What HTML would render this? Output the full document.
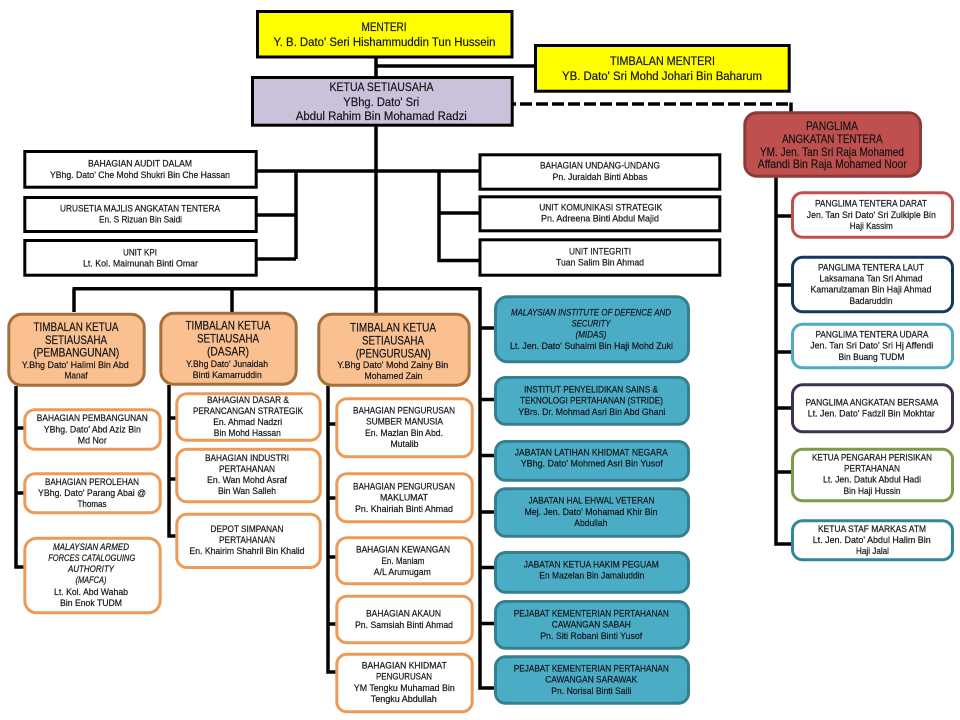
<!DOCTYPE html>
<html><head><meta charset="utf-8"><style>
html,body{margin:0;padding:0;background:#fff}
svg{display:block}
text{font-family:"Liberation Sans",sans-serif;fill:#15151a;stroke:#15151a;stroke-width:.2px;text-anchor:middle;font-size:9.4px}
.h{font-size:12.4px}
.m{font-size:11.6px}
.i{font-style:italic}
.l{stroke:#000;stroke-width:3.5;fill:none}
.bk{fill:#fff;stroke:#000;stroke-width:3}
.or{fill:#fac090;stroke:#a5703c;stroke-width:3}
.oc{fill:#fff;stroke:#ec9a55;stroke-width:3}
.bl{fill:#4bacc6;stroke:#35808f;stroke-width:3}
</style></head><body>
<svg xmlns="http://www.w3.org/2000/svg" width="960" height="720" viewBox="0 0 960 720">
<rect width="960" height="720" fill="#fff"/>
<!-- connectors -->
<path class="l" d="M376 58V290M376 66H534M257 171H480M296 171V259M257 215H296M257 259H296M439 171V260.500H480M439 213H480"/>
<path class="l" d="M72.500 288.700H481.700M74 288.700V312M232 288.700V312M376 288.700V313M480 288.700V688H495M480 328H495M480 399.500H495M480 455.500H495M480 512H495M480 567.500H495M480 623.500H495"/>
<path class="l" d="M16 386V567H24M16 428H24M16 493H24"/>
<path class="l" d="M169 385V536H176M169 418H176M169 479H176"/>
<path class="l" d="M328 386V672H336M328 424H336M328 498H336M328 557H336M328 624H336"/>
<path class="l" d="M776 177V544H792M776 216H792M776 285H792M776 352H792M776 408H792M776 472H792"/>
<path d="M513 104H516M520 104H791" stroke="#000" stroke-width="3.500" stroke-dasharray="12 4" fill="none" style="stroke-dasharray:none" opacity="0"/>
<path d="M513 104H516" stroke="#000" stroke-width="3.500" fill="none"/>
<path d="M520 104H791" stroke="#000" stroke-width="3.500" stroke-dasharray="12 4" fill="none"/>
<path class="l" d="M791 102.500V113"/>
<!-- top boxes -->
<rect x="257.500" y="11.500" width="254.500" height="45.500" fill="#ffff00" stroke="#000" stroke-width="3"/>
<rect x="535.500" y="45.500" width="253.700" height="45.700" fill="#ffff00" stroke="#000" stroke-width="3"/>
<rect x="252.500" y="77.500" width="259.700" height="47.700" fill="#ccc1da" stroke="#000" stroke-width="3"/>
<!-- left / right black boxes -->
<rect class="bk" x="24.800" y="151.500" width="231.400" height="35.700"/>
<rect class="bk" x="24.800" y="197.500" width="231.400" height="34"/>
<rect class="bk" x="24.800" y="240.500" width="231.400" height="34.700"/>
<rect class="bk" x="480" y="154.800" width="239.800" height="34.400"/>
<rect class="bk" x="480" y="196.800" width="239.800" height="34"/>
<rect class="bk" x="480" y="239.800" width="239.800" height="35.400"/>
<!-- panglima -->
<rect x="744.800" y="112.800" width="175.700" height="63.400" rx="12" fill="#c0504d" stroke="#8c3a38" stroke-width="3"/>
<rect x="792.500" y="192.800" width="160" height="44.400" rx="10" fill="#fff" stroke="#c0504d" stroke-width="3"/>
<rect x="792.500" y="257.200" width="160" height="54.600" rx="10" fill="#fff" stroke="#17375e" stroke-width="3"/>
<rect x="792.500" y="324.200" width="160" height="43.600" rx="10" fill="#fff" stroke="#4bacc6" stroke-width="3"/>
<rect x="792.500" y="384.800" width="160" height="47" rx="10" fill="#fff" stroke="#403152" stroke-width="3"/>
<rect x="792.500" y="449.200" width="160" height="51.600" rx="10" fill="#fff" stroke="#7f9a48" stroke-width="3"/>
<rect x="792.500" y="520.800" width="160" height="39" rx="10" fill="#fff" stroke="#31859c" stroke-width="3"/>
<!-- orange headers -->
<rect class="or" x="8.800" y="314.200" width="135.400" height="71" rx="13"/>
<rect class="or" x="160.800" y="313.200" width="135.400" height="71" rx="13"/>
<rect class="or" x="318.800" y="314.200" width="150.400" height="71" rx="13"/>
<!-- orange children -->
<rect class="oc" x="24.800" y="409.800" width="135.400" height="39.400" rx="10"/>
<rect class="oc" x="24.800" y="473.800" width="135.400" height="39" rx="10"/>
<rect class="oc" x="24.800" y="538.200" width="135.400" height="74.600" rx="12"/>
<rect class="oc" x="176.800" y="393.800" width="143.400" height="46.400" rx="10"/>
<rect class="oc" x="176.800" y="449.200" width="143.400" height="52.600" rx="10"/>
<rect class="oc" x="176.800" y="514.200" width="143.400" height="53.300" rx="10"/>
<rect class="oc" x="336.800" y="398.800" width="135.400" height="58" rx="10"/>
<rect class="oc" x="336.800" y="473.800" width="135.400" height="48" rx="10"/>
<rect class="oc" x="336.800" y="537.800" width="135.400" height="46" rx="10"/>
<rect class="oc" x="336.800" y="596.200" width="135.400" height="46.600" rx="10"/>
<rect class="oc" x="336.800" y="654.200" width="135.400" height="57.600" rx="10"/>
<!-- blue -->
<rect class="bl" x="495.500" y="296.800" width="193" height="65" rx="12"/>
<rect class="bl" x="495.500" y="377.500" width="193" height="46.700" rx="10"/>
<rect class="bl" x="495.500" y="441.500" width="193" height="38.700" rx="10"/>
<rect class="bl" x="495.500" y="488.800" width="193" height="47.400" rx="10"/>
<rect class="bl" x="495.500" y="552.500" width="193" height="39.700" rx="10"/>
<rect class="bl" x="495.500" y="601.500" width="193" height="46.700" rx="10"/>
<rect class="bl" x="495.500" y="656.800" width="193" height="46.400" rx="10"/>
<!-- top text -->
<text class="h" x="384" y="31" textLength="45" lengthAdjust="spacingAndGlyphs">MENTERI</text>
<text class="h" x="384.500" y="46" textLength="222" lengthAdjust="spacingAndGlyphs">Y. B. Dato' Seri Hishammuddin  Tun Hussein</text>
<text class="h" x="662.500" y="65" textLength="105" lengthAdjust="spacingAndGlyphs">TIMBALAN MENTERI</text>
<text class="h" x="662" y="80" textLength="200" lengthAdjust="spacingAndGlyphs">YB. Dato' Sri Mohd Johari Bin Baharum</text>
<text class="h" x="381.500" y="91" textLength="104" lengthAdjust="spacingAndGlyphs">KETUA SETIAUSAHA</text>
<text class="h" x="381.300" y="106" textLength="76" lengthAdjust="spacingAndGlyphs">YBhg. Dato' Sri</text>
<text class="h" x="381.300" y="120" textLength="171" lengthAdjust="spacingAndGlyphs">Abdul Rahim Bin Mohamad Radzi</text>
<!-- left -->
<text x="140" y="166.700" textLength="104" lengthAdjust="spacingAndGlyphs">BAHAGIAN AUDIT DALAM</text>
<text x="140" y="178" textLength="180" lengthAdjust="spacingAndGlyphs">YBhg. Dato' Che Mohd Shukri Bin Che Hassan</text>
<text x="140" y="211.700" textLength="160" lengthAdjust="spacingAndGlyphs">URUSETIA MAJLIS ANGKATAN TENTERA</text>
<text x="140.500" y="222.700" textLength="83" lengthAdjust="spacingAndGlyphs">En. S Rizuan Bin Saidi</text>
<text x="140" y="255.700" textLength="34" lengthAdjust="spacingAndGlyphs">UNIT KPI</text>
<text x="140.500" y="266.700" textLength="115" lengthAdjust="spacingAndGlyphs">Lt. Kol. Maimunah Binti Omar</text>
<!-- right -->
<text x="600" y="168.700" textLength="120" lengthAdjust="spacingAndGlyphs">BAHAGIAN UNDANG-UNDANG</text>
<text x="600" y="180" textLength="95" lengthAdjust="spacingAndGlyphs">Pn. Juraidah Binti Abbas</text>
<text x="600.700" y="210.700" textLength="123" lengthAdjust="spacingAndGlyphs">UNIT KOMUNIKASI STRATEGIK</text>
<text x="600" y="221.700" textLength="118" lengthAdjust="spacingAndGlyphs">Pn. Adreena Binti Abdul Majid</text>
<text x="600" y="254.700" textLength="62" lengthAdjust="spacingAndGlyphs">UNIT INTEGRITI</text>
<text x="600" y="265.700" textLength="88" lengthAdjust="spacingAndGlyphs">Tuan Salim Bin Ahmad</text>
<!-- panglima text -->
<text class="m" x="832" y="130" textLength="52" lengthAdjust="spacingAndGlyphs">PANGLIMA</text>
<text class="m" x="832.300" y="143" textLength="100.700" lengthAdjust="spacingAndGlyphs">ANGKATAN TENTERA</text>
<text class="m" x="832" y="156" textLength="144" lengthAdjust="spacingAndGlyphs">YM. Jen. Tan Sri Raja Mohamed</text>
<text class="m" x="832.300" y="168" textLength="149" lengthAdjust="spacingAndGlyphs">Affandi Bin Raja Mohamed Noor</text>
<text x="871" y="206.700" textLength="112" lengthAdjust="spacingAndGlyphs">PANGLIMA TENTERA DARAT</text>
<text x="871.300" y="218" textLength="129" lengthAdjust="spacingAndGlyphs">Jen. Tan Sri Dato' Sri Zulkiple Bin</text>
<text x="871.300" y="229" textLength="43" lengthAdjust="spacingAndGlyphs">Haji Kassim</text>
<text x="871" y="270.700" textLength="106" lengthAdjust="spacingAndGlyphs">PANGLIMA TENTERA LAUT</text>
<text x="871" y="281.700" textLength="103" lengthAdjust="spacingAndGlyphs">Laksamana Tan Sri Ahmad</text>
<text x="871" y="292.700" textLength="121" lengthAdjust="spacingAndGlyphs">Kamarulzaman Bin Haji Ahmad</text>
<text x="871" y="304" textLength="43" lengthAdjust="spacingAndGlyphs">Badaruddin</text>
<text x="872" y="337.700" textLength="113" lengthAdjust="spacingAndGlyphs">PANGLIMA TENTERA UDARA</text>
<text x="871.700" y="348.700" textLength="123" lengthAdjust="spacingAndGlyphs">Jen. Tan Sri Dato' Sri Hj Affendi</text>
<text x="871.500" y="360" textLength="66" lengthAdjust="spacingAndGlyphs">Bin Buang TUDM</text>
<text x="872" y="405.700" textLength="133" lengthAdjust="spacingAndGlyphs">PANGLIMA ANGKATAN BERSAMA</text>
<text x="871.300" y="416.700" textLength="127" lengthAdjust="spacingAndGlyphs">Lt. Jen. Dato' Fadzil Bin Mokhtar</text>
<text x="872" y="460.700" textLength="120" lengthAdjust="spacingAndGlyphs">KETUA PENGARAH PERISIKAN</text>
<text x="872" y="471.700" textLength="56" lengthAdjust="spacingAndGlyphs">PERTAHANAN</text>
<text x="872" y="482.700" textLength="98" lengthAdjust="spacingAndGlyphs">Lt. Jen. Datuk Abdul Hadi</text>
<text x="872" y="494" textLength="57" lengthAdjust="spacingAndGlyphs">Bin Haji Hussin</text>
<text x="872" y="532" textLength="108" lengthAdjust="spacingAndGlyphs">KETUA STAF MARKAS ATM</text>
<text x="871.700" y="543" textLength="118" lengthAdjust="spacingAndGlyphs">Lt. Jen. Dato' Abdul Halim Bin</text>
<text x="872.500" y="554" textLength="33" lengthAdjust="spacingAndGlyphs">Haji Jalal</text>
<!-- orange header text -->
<text class="m" x="76" y="331" textLength="85" lengthAdjust="spacingAndGlyphs">TIMBALAN KETUA</text>
<text class="m" x="76" y="344" textLength="62" lengthAdjust="spacingAndGlyphs">SETIAUSAHA</text>
<text class="m" x="76.300" y="356.700" textLength="86" lengthAdjust="spacingAndGlyphs">(PEMBANGUNAN)</text>
<text x="75.300" y="368" textLength="107" lengthAdjust="spacingAndGlyphs">Y.Bhg Dato' Halimi Bin Abd</text>
<text x="76" y="378.700" textLength="23" lengthAdjust="spacingAndGlyphs">Manaf</text>
<text class="m" x="228" y="329.700" textLength="85" lengthAdjust="spacingAndGlyphs">TIMBALAN KETUA</text>
<text class="m" x="228" y="342.700" textLength="62" lengthAdjust="spacingAndGlyphs">SETIAUSAHA</text>
<text class="m" x="228" y="355.700" textLength="42" lengthAdjust="spacingAndGlyphs">(DASAR)</text>
<text x="227" y="367" textLength="82" lengthAdjust="spacingAndGlyphs">Y.Bhg Dato' Junaidah</text>
<text x="227.300" y="378" textLength="69" lengthAdjust="spacingAndGlyphs">Binti Kamarruddin</text>
<text class="m" x="393" y="331.300" textLength="86" lengthAdjust="spacingAndGlyphs">TIMBALAN KETUA</text>
<text class="m" x="393" y="344.300" textLength="62" lengthAdjust="spacingAndGlyphs">SETIAUSAHA</text>
<text class="m" x="393.300" y="357.300" textLength="75" lengthAdjust="spacingAndGlyphs">(PENGURUSAN)</text>
<text x="392.700" y="368" textLength="111" lengthAdjust="spacingAndGlyphs">Y.Bhg Dato' Mohd Zainy Bin</text>
<text x="393.500" y="379" textLength="58" lengthAdjust="spacingAndGlyphs">Mohamed Zain</text>
<!-- col1 -->
<text x="92.300" y="421" textLength="111" lengthAdjust="spacingAndGlyphs">BAHAGIAN PEMBANGUNAN</text>
<text x="92.300" y="432.300" textLength="97" lengthAdjust="spacingAndGlyphs">YBhg. Dato' Abd Aziz Bin</text>
<text x="92.300" y="443.300" textLength="29" lengthAdjust="spacingAndGlyphs">Md Nor</text>
<text x="92" y="485" textLength="94" lengthAdjust="spacingAndGlyphs">BAHAGIAN PEROLEHAN</text>
<text x="92" y="496" textLength="108" lengthAdjust="spacingAndGlyphs">YBhg. Dato' Parang Abai @</text>
<text x="92" y="507" textLength="29" lengthAdjust="spacingAndGlyphs">Thomas</text>
<text class="i" x="91" y="550" textLength="76" lengthAdjust="spacingAndGlyphs">MALAYSIAN ARMED</text>
<text class="i" x="91.700" y="561" textLength="87" lengthAdjust="spacingAndGlyphs">FORCES CATALOGUING</text>
<text class="i" x="91" y="572" textLength="46" lengthAdjust="spacingAndGlyphs">AUTHORITY</text>
<text class="i" x="91" y="583" textLength="31" lengthAdjust="spacingAndGlyphs">(MAFCA)</text>
<text x="91" y="595" textLength="74" lengthAdjust="spacingAndGlyphs">Lt. Kol. Abd Wahab</text>
<text x="91" y="606" textLength="62" lengthAdjust="spacingAndGlyphs">Bin Enok TUDM</text>
<!-- col2 -->
<text x="248" y="403" textLength="82" lengthAdjust="spacingAndGlyphs">BAHAGIAN DASAR &amp;</text>
<text x="248" y="414" textLength="110" lengthAdjust="spacingAndGlyphs">PERANCANGAN STRATEGIK</text>
<text x="247.700" y="425" textLength="69" lengthAdjust="spacingAndGlyphs">En. Ahmad Nadzri</text>
<text x="247.300" y="436" textLength="67" lengthAdjust="spacingAndGlyphs">Bin Mohd Hassan</text>
<text x="247" y="461" textLength="84" lengthAdjust="spacingAndGlyphs">BAHAGIAN INDUSTRI</text>
<text x="247" y="472" textLength="56" lengthAdjust="spacingAndGlyphs">PERTAHANAN</text>
<text x="247" y="483" textLength="80" lengthAdjust="spacingAndGlyphs">En. Wan Mohd Asraf</text>
<text x="247" y="494" textLength="58" lengthAdjust="spacingAndGlyphs">Bin Wan Salleh</text>
<text x="247" y="532" textLength="73" lengthAdjust="spacingAndGlyphs">DEPOT SIMPANAN</text>
<text x="247" y="543" textLength="56" lengthAdjust="spacingAndGlyphs">PERTAHANAN</text>
<text x="247" y="554" textLength="115" lengthAdjust="spacingAndGlyphs">En. Khairim Shahril Bin Khalid</text>
<!-- col3 -->
<text x="404" y="413.700" textLength="102" lengthAdjust="spacingAndGlyphs">BAHAGIAN PENGURUSAN</text>
<text x="404.500" y="424.700" textLength="77" lengthAdjust="spacingAndGlyphs">SUMBER MANUSIA</text>
<text x="404" y="436" textLength="78" lengthAdjust="spacingAndGlyphs">En. Mazlan Bin Abd.</text>
<text x="404.500" y="447" textLength="28" lengthAdjust="spacingAndGlyphs">Mutalib</text>
<text x="404" y="489.700" textLength="102" lengthAdjust="spacingAndGlyphs">BAHAGIAN PENGURUSAN</text>
<text x="404" y="500.700" textLength="48" lengthAdjust="spacingAndGlyphs">MAKLUMAT</text>
<text x="404" y="512" textLength="98" lengthAdjust="spacingAndGlyphs">Pn. Khairiah Binti Ahmad</text>
<text x="403" y="552.700" textLength="94" lengthAdjust="spacingAndGlyphs">BAHAGIAN KEWANGAN</text>
<text x="403" y="564" textLength="43" lengthAdjust="spacingAndGlyphs">En. Maniam</text>
<text x="402.300" y="575" textLength="57" lengthAdjust="spacingAndGlyphs">A/L Arumugam</text>
<text x="403.500" y="616.700" textLength="75" lengthAdjust="spacingAndGlyphs">BAHAGIAN AKAUN</text>
<text x="404" y="628" textLength="98" lengthAdjust="spacingAndGlyphs">Pn. Samsiah Binti Ahmad</text>
<text x="404.300" y="668.700" textLength="85" lengthAdjust="spacingAndGlyphs">BAHAGIAN KHIDMAT</text>
<text x="404" y="679.700" textLength="56" lengthAdjust="spacingAndGlyphs">PENGURUSAN</text>
<text x="404.300" y="691" textLength="101" lengthAdjust="spacingAndGlyphs">YM Tengku Muhamad Bin</text>
<text x="403.800" y="702" textLength="66" lengthAdjust="spacingAndGlyphs">Tengku Abdullah</text>
<!-- blue text -->
<text class="i" x="591" y="315.700" textLength="160" lengthAdjust="spacingAndGlyphs">MALAYSIAN INSTITUTE OF DEFENCE AND</text>
<text class="i" x="591" y="326.700" textLength="39" lengthAdjust="spacingAndGlyphs">SECURITY</text>
<text class="i" x="591" y="337.700" textLength="31" lengthAdjust="spacingAndGlyphs">(MIDAS)</text>
<text x="591.500" y="349" textLength="163" lengthAdjust="spacingAndGlyphs">Lt. Jen. Dato' Suhaimi Bin Haji Mohd Zuki</text>
<text x="591" y="392.700" textLength="134" lengthAdjust="spacingAndGlyphs">INSTITUT PENYELIDIKAN SAINS &amp;</text>
<text x="591.500" y="403.700" textLength="143" lengthAdjust="spacingAndGlyphs">TEKNOLOGI PERTAHANAN (STRIDE)</text>
<text x="591.800" y="415" textLength="147" lengthAdjust="spacingAndGlyphs">YBrs. Dr. Mohmad Asri Bin Abd Ghani</text>
<text x="591.300" y="455.700" textLength="153" lengthAdjust="spacingAndGlyphs">JABATAN LATIHAN KHIDMAT NEGARA</text>
<text x="591.700" y="466.700" textLength="142" lengthAdjust="spacingAndGlyphs">YBhg. Dato' Mohmed Asri Bin Yusof</text>
<text x="591.500" y="503.700" textLength="126" lengthAdjust="spacingAndGlyphs">JABATAN HAL EHWAL VETERAN</text>
<text x="591" y="515" textLength="133" lengthAdjust="spacingAndGlyphs">Mej. Jen. Dato' Mohamad Khir Bin</text>
<text x="590.800" y="526" textLength="33" lengthAdjust="spacingAndGlyphs">Abdullah</text>
<text x="591.300" y="567.700" textLength="135" lengthAdjust="spacingAndGlyphs">JABATAN KETUA HAKIM PEGUAM</text>
<text x="591.800" y="578.700" textLength="105" lengthAdjust="spacingAndGlyphs">En Mazelan Bin Jamaluddin</text>
<text x="591.300" y="616.700" textLength="155" lengthAdjust="spacingAndGlyphs">PEJABAT KEMENTERIAN PERTAHANAN</text>
<text x="591.300" y="627.700" textLength="79" lengthAdjust="spacingAndGlyphs">CAWANGAN SABAH</text>
<text x="591.200" y="639" textLength="102" lengthAdjust="spacingAndGlyphs">Pn. Siti Robani Binti Yusof</text>
<text x="591.300" y="671.700" textLength="155" lengthAdjust="spacingAndGlyphs">PEJABAT KEMENTERIAN PERTAHANAN</text>
<text x="591.200" y="682.700" textLength="92" lengthAdjust="spacingAndGlyphs">CAWANGAN SARAWAK</text>
<text x="591.300" y="694" textLength="80" lengthAdjust="spacingAndGlyphs">Pn. Norisal Binti Saili</text>
</svg>
</body></html>
